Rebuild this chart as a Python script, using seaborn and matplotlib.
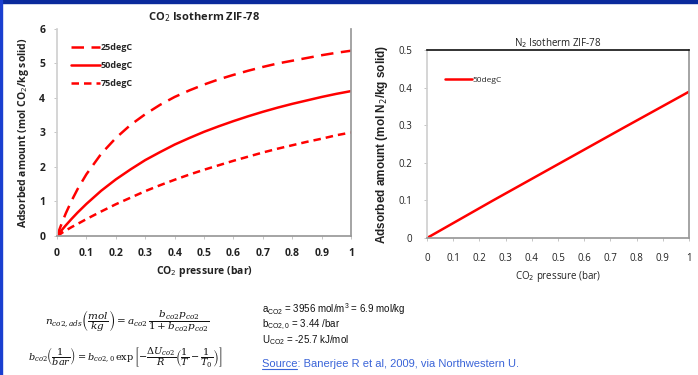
import matplotlib
matplotlib.use('Agg')
import matplotlib.pyplot as plt
import seaborn as sns
import pandas as pd
from matplotlib.patches import Rectangle

# CO2 isotherm
pressure = [0.0, 0.01, 0.02, 0.03, 0.05, 0.07, 0.1, 0.15, 0.2, 0.25, 0.3, 0.35, 0.4, 0.45,
            0.5, 0.55, 0.6, 0.65, 0.7, 0.75, 0.8, 0.85, 0.9, 0.95, 1.0]
co2_25 = [0.0, 0.23, 0.45, 0.66, 1.03, 1.36, 1.79, 2.38, 2.84, 3.22, 3.53, 3.80, 4.03, 4.22,
          4.39, 4.54, 4.67, 4.79, 4.90, 5.00, 5.08, 5.16, 5.24, 5.31, 5.37]
co2_50 = [0.0, 0.11, 0.21, 0.31, 0.50, 0.68, 0.93, 1.31, 1.64, 1.93, 2.20, 2.43, 2.65, 2.84,
          3.02, 3.18, 3.33, 3.47, 3.60, 3.72, 3.83, 3.93, 4.03, 4.12, 4.20]
co2_75 = [0.0, 0.05, 0.11, 0.16, 0.26, 0.35, 0.49, 0.71, 0.92, 1.11, 1.30, 1.47, 1.63, 1.78,
          1.92, 2.05, 2.18, 2.30, 2.42, 2.53, 2.63, 2.73, 2.82, 2.92, 3.00]

# N2 isotherm
n2_pressure = [0.0, 0.25, 0.5, 0.75, 1.0]
n2_50 = [0.0, 0.099, 0.196, 0.293, 0.389]

x_ticks = [0, 0.1, 0.2, 0.3, 0.4, 0.5, 0.6, 0.7, 0.8, 0.9, 1]
x_labels = ['0', '0.1', '0.2', '0.3', '0.4', '0.5', '0.6', '0.7', '0.8', '0.9', '1']

sns.set_theme(style="white")
plt.rcParams['font.family'] = ['Open Sans', 'DejaVu Sans']

df_co2 = pd.DataFrame({
    'p': pressure * 3,
    'n': co2_25 + co2_50 + co2_75,
    'T': ['25degC'] * len(pressure) + ['50degC'] * len(pressure) + ['75degC'] * len(pressure),
})
df_n2 = pd.DataFrame({'p': n2_pressure, 'n': n2_50, 'T': ['50degC'] * len(n2_pressure)})

fig = plt.figure(figsize=(6.98, 3.75), dpi=100)
fig.patch.set_facecolor('white')

# slide frame
fig.patches.append(Rectangle((0, 0.992), 1, 0.008, transform=fig.transFigure,
                             color='#0a2a9c', zorder=0))
fig.patches.append(Rectangle((0, 0), 0.003, 1, transform=fig.transFigure,
                             color='#1a3fd0', zorder=0))

red = '#ff0000'
dark = '#222222'
tick_kw = dict(fontsize=7.5, fontweight='bold', color=dark)

# ---- left: CO2 ----
ax1 = fig.add_axes([0.0817, 0.3707, 0.4213, 0.552])
sns.lineplot(data=df_co2, x='p', y='n', hue='T', style='T',
             palette=[red, red, red],
             dashes={'25degC': (5, 3), '50degC': '', '75degC': (3, 2)},
             linewidth=1.8, ax=ax1)
ax1.set_xlim(0, 1)
ax1.set_ylim(0, 6)
ax1.set_xticks(x_ticks)
ax1.set_xticklabels(x_labels, **tick_kw)
ax1.set_yticks([0, 1, 2, 3, 4, 5, 6])
ax1.set_yticklabels(['0', '1', '2', '3', '4', '5', '6'], **tick_kw)
ax1.set_xlabel('CO$_2$ pressure (bar)', fontsize=7.5, fontweight='bold', color=dark, labelpad=4)
ax1.set_ylabel('Adsorbed amount (mol CO$_2$/kg solid)', fontsize=7.5, fontweight='bold',
               color=dark, labelpad=6)
ax1.set_title('CO$_2$ Isotherm ZIF-78', fontsize=8, fontweight='bold', color=dark, pad=6)
ax1.spines['top'].set_visible(False)
ax1.spines['left'].set_color('#d0d0d0')
ax1.spines['bottom'].set_color('#999999')
ax1.spines['right'].set_color('#999999')
ax1.tick_params(axis='both', length=2.5, width=0.6, color='#bbbbbb', pad=6,
                bottom=True, left=True)
leg1 = ax1.legend(loc='upper left', frameon=False, fontsize=6.5, handlelength=3.2,
                  handletextpad=0.1, labelspacing=1.0, bbox_to_anchor=(0.02, 0.97))
for t in leg1.get_texts():
    t.set_fontweight('bold')

# ---- right: N2 ----
ax2 = fig.add_axes([0.6117, 0.3653, 0.3753, 0.5014])
sns.lineplot(data=df_n2, x='p', y='n', hue='T', palette=[red], linewidth=1.8, ax=ax2)
ax2.set_xlim(0, 1)
ax2.set_ylim(0, 0.5)
ax2.set_xticks(x_ticks)
ax2.set_xticklabels(x_labels, fontsize=7, color=dark)
ax2.set_yticks([0, 0.1, 0.2, 0.3, 0.4, 0.5])
ax2.set_yticklabels(['0', '0.1', '0.2', '0.3', '0.4', '0.5'], fontsize=7, color=dark)
ax2.set_xlabel('CO$_2$ pressure (bar)', fontsize=7, color=dark, labelpad=4)
ax2.set_ylabel('Adsorbed amount (mol N$_2$/kg solid)', fontsize=8.5, fontweight='bold',
               family=['Liberation Sans', 'DejaVu Sans'], color=dark, labelpad=6)
ax2.set_title('N$_2$ Isotherm ZIF-78', fontsize=7, color=dark, pad=3)
ax2.spines['top'].set_color('#111111')
ax2.spines['top'].set_linewidth(1.2)
ax2.spines['left'].set_color('#d0d0d0')
ax2.spines['bottom'].set_color('#999999')
ax2.spines['right'].set_color('#999999')
ax2.tick_params(axis='both', length=2.5, width=0.6, color='#bbbbbb', pad=8,
                bottom=True, left=True)
leg2 = ax2.legend(loc='upper left', frameon=False, fontsize=6, handlelength=3.2,
                  handletextpad=0.1, bbox_to_anchor=(0.04, 0.9))

# ---- equations and parameters ----
serif = dict(family=['DejaVu Serif'], math_fontfamily='dejavuserif',
             color='#111111', va='center')
fig.text(0.065, 0.145,
         r'$n_{co2,ads}\left(\dfrac{mol}{kg}\right) = a_{co2}\,\dfrac{b_{co2}p_{co2}}{1+b_{co2}p_{co2}}$',
         fontsize=7.5, **serif)
fig.text(0.04, 0.045,
         r'$b_{co2}\left(\dfrac{1}{bar}\right) = b_{co2,0}\,\exp\left[-\dfrac{\Delta U_{co2}}{R}\left(\dfrac{1}{T}-\dfrac{1}{T_0}\right)\right]$',
         fontsize=7, **serif)

sans = dict(family=['Liberation Sans', 'DejaVu Sans'], color='#111111', fontsize=7, va='center')
fig.text(0.375, 0.176, r'a$_{\mathregular{CO2}}$ = 3956 mol/m$^{\mathregular{3}}$ = 6.9 mol/kg', **sans)
fig.text(0.375, 0.134, r'b$_{\mathregular{CO2,0}}$ = 3.44 /bar', **sans)
fig.text(0.375, 0.094, r'U$_{\mathregular{CO2}}$ = -25.7 kJ/mol', **sans)

blue = '#3a64d8'
src_kw = dict(family=['Liberation Sans', 'DejaVu Sans'], color=blue, fontsize=8, va='baseline')
fig.text(0.375, 0.022, 'Source: Banerjee R et al, 2009, via Northwestern U.', **src_kw)
# underline only the word "Source"
probe = fig.text(0.375, 0.022, 'Source', alpha=0, **src_kw)
fig.canvas.draw()
bb = probe.get_window_extent().transformed(fig.transFigure.inverted())
fig.lines.append(plt.Line2D([bb.x0, bb.x1], [0.016, 0.016], transform=fig.transFigure,
                            color=blue, linewidth=0.8))

fig.savefig('out.png', dpi=100, facecolor='white')
plt.close(fig)
